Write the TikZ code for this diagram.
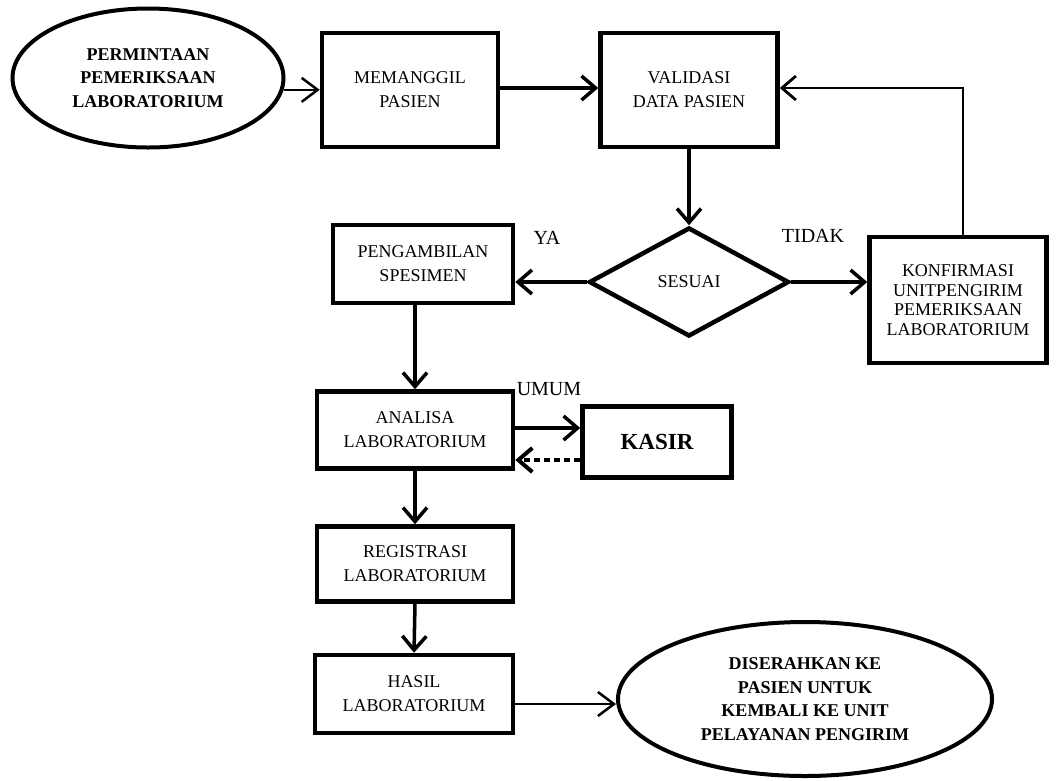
\documentclass[tikz,border=0pt]{standalone}
\usepackage{fontspec}
\setmainfont{Liberation Serif}
\usetikzlibrary{shapes.geometric,arrows.meta}
\begin{document}
\begin{tikzpicture}[x=1pt,y=-1pt,
  box/.style={draw,line width=4.5pt,rectangle,inner sep=0pt,align=center,
    font=\fontsize{18}{24}\selectfont},
  terminal/.style={draw,line width=4pt,ellipse,inner sep=0pt,align=center,
    font=\bfseries\fontsize{18}{23.5}\selectfont},
  decision/.style={draw,line width=4.5pt,diamond,inner sep=0pt,
    font=\fontsize{18}{22}\selectfont},
  lbl/.style={inner sep=0pt,font=\fontsize{20}{24}\selectfont},
  flow/.style={line width=3.5pt,-{Straight Barb[length=14pt,width=24pt]}},
  thinflow/.style={line width=2.5pt,-{Straight Barb[length=16pt,width=24pt]}},
  backflow/.style={line width=4pt,dash pattern=on 6pt off 4pt,
    -{Straight Barb[length=14pt,width=24pt]}},
  loopline/.style={line width=2.8pt,-{Straight Barb[length=14pt,width=24pt]}},
]
\useasboundingbox[fill=white] (0,0) rectangle (1060,780);

% start and end terminals
\node[terminal,minimum width=271pt,minimum height=139pt] (start) at (148,78)
  {PERMINTAAN\\PEMERIKSAAN\\LABORATORIUM};
\node[terminal,minimum width=374pt,minimum height=154pt] (finish) at (805,699)
  {DISERAHKAN KE\\PASIEN UNTUK\\KEMBALI KE UNIT\\PELAYANAN PENGIRIM};

% process boxes
\node[box,minimum width=176pt,minimum height=114pt] (panggil) at (410,90)
  {MEMANGGIL\\PASIEN};
\node[box,minimum width=177pt,minimum height=114pt] (validasi) at (689,90)
  {VALIDASI\\DATA PASIEN};
\node[decision,minimum width=200pt,minimum height=109pt] (sesuai) at (689,282)
  {SESUAI};
\node[box,minimum width=180pt,minimum height=78pt] (ambil) at (423,264)
  {PENGAMBILAN\\SPESIMEN};
\node[box,minimum width=177pt,minimum height=126pt,
  font=\fontsize{18}{19.5}\selectfont] (konfirmasi) at (958,300)
  {KONFIRMASI\\UNITPENGIRIM\\PEMERIKSAAN\\LABORATORIUM};
\node[box,minimum width=196pt,minimum height=77pt] (analisa) at (415,430)
  {ANALISA\\LABORATORIUM};
\node[box,minimum width=149pt,minimum height=71pt,
  font=\bfseries\fontsize{23}{26}\selectfont] (kasir) at (657,442) {KASIR};
\node[box,minimum width=196pt,minimum height=75pt] (registrasi) at (415,564)
  {REGISTRASI\\LABORATORIUM};
\node[box,minimum width=198pt,minimum height=78pt] (hasil) at (414,694)
  {HASIL\\LABORATORIUM};

% branch labels
\node[lbl] (ya) at (547,238) {YA};
\node[lbl] (tidak) at (813,236) {TIDAK};
\node[lbl] (umum) at (549,389) {UMUM};

% connectors
\draw[thinflow] (start.-5) -- (start.-5 -| panggil.west);
\draw[flow] ([yshift=2pt]panggil.east) -- ([yshift=2pt]validasi.west);
\draw[flow] (validasi.south) -- (sesuai.north);
\draw[flow] (sesuai.west) -- (sesuai.west -| ambil.east);
\draw[flow] (sesuai.east) -- (sesuai.east -| konfirmasi.west);
\coordinate (turn) at (963,88);
\draw[loopline] (konfirmasi.north -| turn) -- (turn) -- (turn -| validasi.east);
\draw[flow] (ambil.south -| analisa.north) -- (analisa.north);
\draw[flow] ([yshift=2pt]analisa.east) -- ([yshift=2pt]analisa.east -| kasir.west);
\draw[backflow] ([yshift=-18pt]kasir.west) -- ([yshift=-18pt]kasir.west -| analisa.east);
\draw[flow] (analisa.south) -- (registrasi.north);
\draw[flow] (registrasi.south) -- (hasil.north);
\coordinate (hasilout) at ([yshift=-10pt]hasil.east);
\draw[thinflow] (hasilout) -- (hasilout -| finish.west);
\end{tikzpicture}
\end{document}
